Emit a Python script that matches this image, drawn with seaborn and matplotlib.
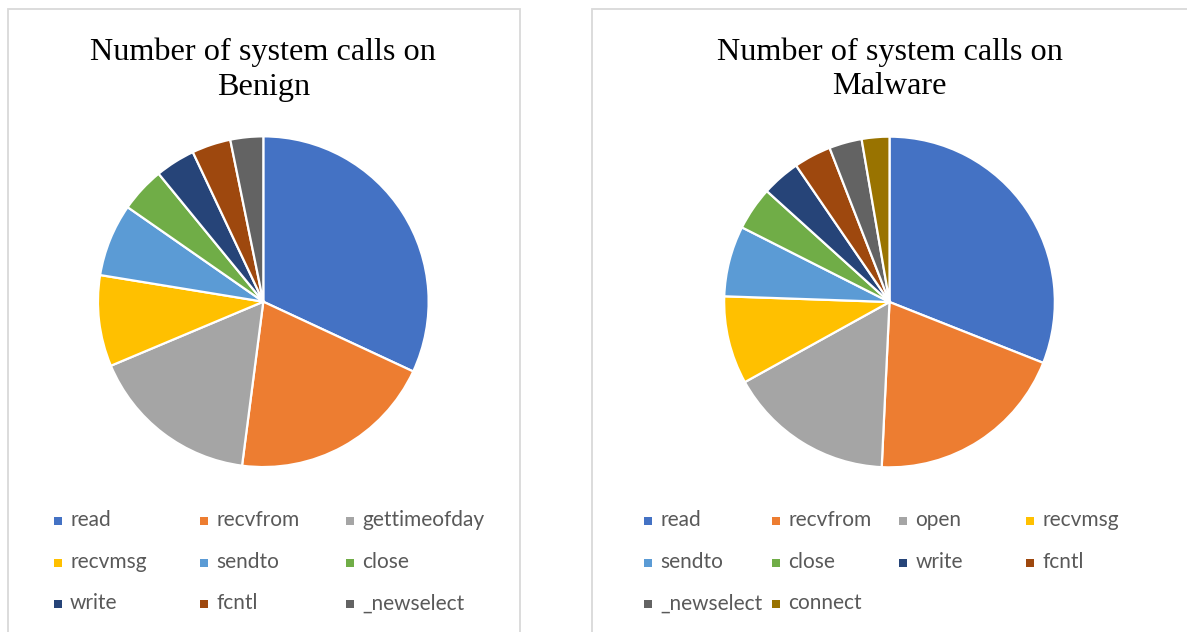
import matplotlib
matplotlib.use("Agg")
import matplotlib.pyplot as plt
from matplotlib.patches import Rectangle
import seaborn as sns

# ---------------- data ----------------
benign_calls = ["read", "recvfrom", "gettimeofday", "recvmsg", "sendto",
                "close", "write", "fcntl", "_newselect"]
benign_share = [31.9, 20.1, 16.6, 8.9, 7.1, 4.4, 3.9, 3.8, 3.2]

malware_calls = ["read", "recvfrom", "open", "recvmsg", "sendto",
                 "close", "write", "fcntl", "_newselect", "connect"]
malware_share = [31.0, 19.75, 16.2, 8.6, 6.9, 4.25, 3.75, 3.65, 3.2, 2.7]

titles = ["Number of system calls on\nBenign", "Number of system calls on\nMalware"]

office_colors = ["#4472C4", "#ED7D31", "#A5A5A5", "#FFC000", "#5B9BD5",
                 "#70AD47", "#264478", "#9E480E", "#636363", "#997300"]

# ---------------- figure ----------------
sns.set_theme(style="white")
palette = sns.color_palette(office_colors)

W, H = 1187, 632
fig = plt.figure(figsize=(W / 100, H / 100), dpi=100)
fig.patch.set_facecolor("white")


def fx(px):
    return px / W


def fy(py):  # py measured from top
    return 1 - py / H


# panel borders
for x0, x1 in [(8, 520), (592, 1300)]:
    fig.add_artist(Rectangle((fx(x0), fy(700)), fx(x1 - x0), (700 - 9) / H,
                             transform=fig.transFigure, fill=False,
                             edgecolor="#D9D9D9", linewidth=1.3, clip_on=False))

panels = [
    dict(calls=benign_calls, share=benign_share, title=titles[0],
         cx=263.3, cy=301.7, r=167,
         leg_x=[57.5, 204, 350], leg_y=[520.5, 562.5, 604]),
    dict(calls=malware_calls, share=malware_share, title=titles[1],
         cx=889.5, cy=302.0, r=167,
         leg_x=[648, 776, 903, 1030], leg_y=[520.5, 562.5, 604]),
]

for p in panels:
    r = p["r"]
    ax = fig.add_axes([fx(p["cx"] - r), fy(p["cy"] + r), fx(2 * r), 2 * r / H])
    ax.pie(p["share"], colors=palette[:len(p["share"])], startangle=90,
           counterclock=False, radius=1.0,
           wedgeprops=dict(edgecolor="white", linewidth=1.6))
    ax.set_xlim(-1.01, 1.01)
    ax.set_ylim(-1.01, 1.01)
    ax.set_axis_off()

    # title (baseline of the last line)
    fig.text(fx(p["cx"]), fy(94.5), p["title"], ha="center", va="baseline",
             family="Liberation Serif", fontsize=23.2, color="#000000",
             linespacing=1.27)

    # legend
    ncol = len(p["leg_x"])
    for i, (name, col) in enumerate(zip(p["calls"], palette)):
        row, c = divmod(i, ncol)
        mx, my = p["leg_x"][c], p["leg_y"][row]
        fig.add_artist(Rectangle((fx(mx - 4), fy(my + 4)), fx(8), 8 / H,
                                 transform=fig.transFigure, facecolor=col,
                                 edgecolor="none"))
        fig.text(fx(mx + 12.5), fy(my + 5.2), name, ha="left", va="baseline",
                 family="Lato", fontsize=15, color="#595959")

fig.savefig("out.png", dpi=100, facecolor="white")
